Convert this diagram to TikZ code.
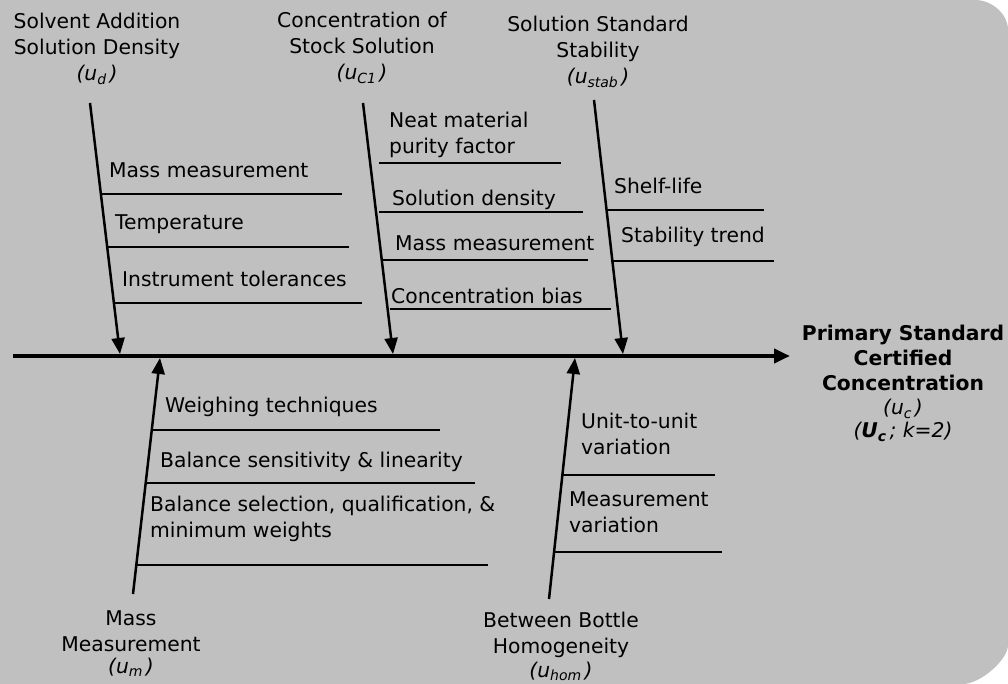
\documentclass[tikz,border=0pt]{standalone}
\usepackage{fontspec}
\setmainfont{DejaVu Sans}
\usetikzlibrary{arrows.meta}
\definecolor{bg}{HTML}{C0C0C0}
\newcommand{\sub}[1]{\raisebox{-0.35ex}{\fontsize{14}{14}\selectfont #1}}
\newcommand{\lab}[2][c]{\begin{tabular}[t]{@{}#1@{}}#2\end{tabular}}
\tikzset{
  every node/.style={inner sep=0pt, font=\fontsize{20.3}{26}\selectfont},
  spine/.style={line width=4pt, -{Triangle[length=16pt,width=14pt]}},
  bone/.style={line width=2.5pt, -{Triangle[length=16pt,width=13pt]}},
  branch/.style={line width=2.5pt},
  txt/.style={anchor=base west},
  title/.style={anchor=base}
}
\begin{document}
\begin{tikzpicture}[x=1pt,y=-1pt]
\useasboundingbox (0,0) rectangle (1008,684);
\fill[bg] (0,0) -- (975,0) .. controls (992,0) and (1008,14) .. (1008,30)
  -- (1008,645) .. controls (1008,660) and (980,684) .. (963,684) -- (0,684) -- cycle;

% spine
\coordinate (sp0) at (13,356);
\coordinate (sp1) at (790,356);
\draw[spine] (sp0) -- (sp1);

% bones
\coordinate (b1s) at (90,103);  \coordinate (b1e) at (120,354);
\coordinate (b2s) at (363,103); \coordinate (b2e) at (393,354);
\coordinate (b3s) at (594,100); \coordinate (b3e) at (623,354);
\coordinate (b4s) at (133,594); \coordinate (b4e) at (160,358);
\coordinate (b5s) at (549,599); \coordinate (b5e) at (575,358);
\draw[bone] (b1s) -- (b1e);
\draw[bone] (b2s) -- (b2e);
\draw[bone] (b3s) -- (b3e);
\draw[bone] (b4s) -- (b4e);
\draw[bone] (b5s) -- (b5e);

% branches
\coordinate (r11a) at (101,194); \coordinate (r11b) at (342,194);
\coordinate (r12a) at (107,247); \coordinate (r12b) at (349,247);
\coordinate (r13a) at (114,303); \coordinate (r13b) at (362,303);
\coordinate (r21a) at (379,163); \coordinate (r21b) at (561,163);
\coordinate (r22a) at (379,212); \coordinate (r22b) at (583,212);
\coordinate (r23a) at (383,260); \coordinate (r23b) at (588,260);
\coordinate (r24a) at (390,309); \coordinate (r24b) at (611,309);
\coordinate (r31a) at (607,210); \coordinate (r31b) at (764,210);
\coordinate (r32a) at (613,261); \coordinate (r32b) at (774,261);
\coordinate (r41a) at (152,430); \coordinate (r41b) at (440,430);
\coordinate (r42a) at (146,483); \coordinate (r42b) at (475,483);
\coordinate (r43a) at (136,565); \coordinate (r43b) at (488,565);
\coordinate (r51a) at (562,475); \coordinate (r51b) at (715,475);
\coordinate (r52a) at (554,552); \coordinate (r52b) at (722,552);
\foreach \r in {r11,r12,r13,r21,r22,r23,r24,r31,r32,r41,r42,r43,r51,r52}
  \draw[branch] (\r a) -- (\r b);

% branch texts
\node[txt] (t11) at (109,178) {Mass measurement};
\node[txt] (t12) at (115,230) {Temperature};
\node[txt] (t13) at (122,287) {Instrument tolerances};
\node[txt] (t21) at (389,128) {\lab[l]{Neat material\\purity factor}};
\node[txt] (t22) at (392,206) {Solution density};
\node[txt] (t23) at (395,251) {Mass measurement};
\node[txt] (t24) at (391,303) {Concentration bias};
\node[txt] (t31) at (614,194) {Shelf-life};
\node[txt] (t32) at (621,243) {Stability trend};
\node[txt] (t41) at (165,412) {Weighing techniques};
\node[txt] (t42) at (160,467) {Balance sensitivity \& linearity};
\node[txt] (t43) at (150,511) {\lab[l]{Balance selection, qualification, \&\\minimum weights}};
\node[txt] (t51) at (581,428) {\lab[l]{Unit-to-unit\\variation}};
\node[txt] (t52) at (569,506) {\lab[l]{Measurement\\variation}};

% category titles
\node[title] (c1) at (97,29) {\lab{Solvent Addition\\Solution Density\\{\itshape (u\sub{d}\,)}}};
\node[title] (c2) at (362,28) {\lab{Concentration of\\Stock Solution\\{\itshape (u\sub{C1}\,)}}};
\node[title] (c3) at (598,32) {\lab{Solution Standard\\Stability\\{\itshape (u\sub{stab}\,)}}};
\node[title] (c4) at (131,625) {\lab{Mass\\Measurement\\[-4pt]{\itshape (u\sub{m}\,)}}};
\node[title] (c5) at (561,627) {\lab{Between Bottle\\Homogeneity\\[-2pt]{\itshape (u\sub{hom}\,)}}};

% result
\node[title, font=\fontsize{20.3}{25.3}\selectfont] (res) at (903,340)
  {\lab{\textbf{Primary Standard}\\\textbf{Certified}\\\textbf{Concentration}\\[-1pt]{\itshape (u\sub{c}\,)}\\[-3pt]{\itshape (\textbf{U\sub{c}}\,; k=2)}}};
\end{tikzpicture}
\end{document}
